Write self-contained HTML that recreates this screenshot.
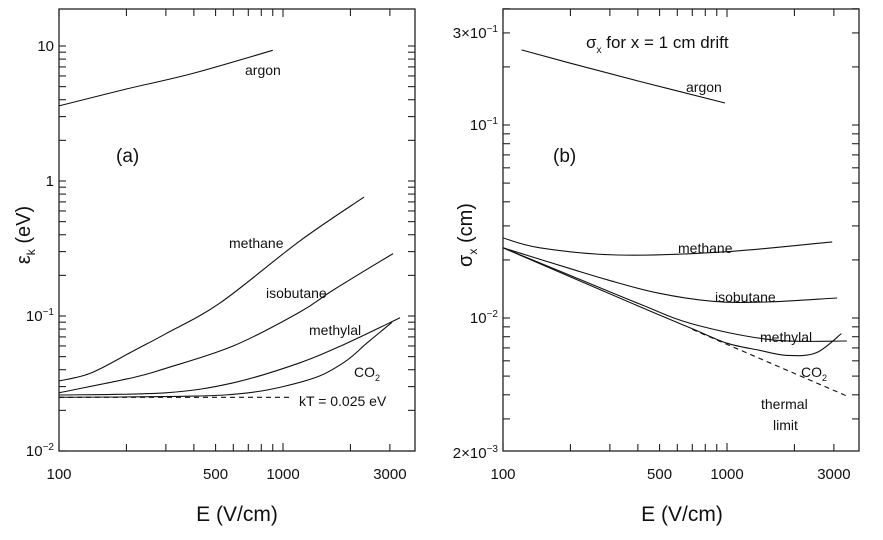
<!DOCTYPE html>
<html><head><meta charset="utf-8"><style>
html,body{margin:0;padding:0;background:#fff;}
svg text{font-family:"Liberation Sans","DejaVu Sans",sans-serif;fill:#111;}
</style></head><body>
<svg id="chart" width="883" height="535" viewBox="0 0 883 535" xmlns="http://www.w3.org/2000/svg"></svg>
<script>
// Panel (a): mean energy vs E
const aArgon=[[100,3.6],[200,4.8],[400,6.3],[900,9.3]];
const aMethane=[[100,0.033],[140,0.038],[214,0.055],[300,0.074],[524,0.125],[1190,0.36],[2300,0.76]];
const aIsobutane=[[100,0.027],[214,0.035],[300,0.041],[600,0.06],[1190,0.107],[1680,0.156],[3100,0.29]];
const aMethylal=[[100,0.026],[300,0.027],[600,0.032],[1190,0.045],[1930,0.063],[3330,0.097]];
const aCO2=[[100,0.025],[400,0.0255],[700,0.027],[1000,0.030],[1460,0.036],[1930,0.047],[2370,0.063],[3070,0.09]];
const aKT=[[100,0.025],[1080,0.025]];
// Panel (b): sigma_x vs E
const bArgon=[[121,0.245],[200,0.209],[409,0.168],[980,0.130]];
const bMethane=[[100,0.026],[146,0.0231],[323,0.0212],[960,0.022],[2950,0.0248]];
const bIsobutane=[[100,0.0231],[200,0.018],[291,0.0158],[487,0.0135],[866,0.0122],[1500,0.0121],[3100,0.0127]];
const bMethylal=[[100,0.0231],[200,0.0166],[409,0.0118],[705,0.0093],[1600,0.0077],[3430,0.0076]];
const bCO2=[[100,0.0231],[400,0.01155],[700,0.0088],[1000,0.0074],[1400,0.0068],[1850,0.0064],[2500,0.0066],[3240,0.0083]];
const bThermal=[[700,0.00873],[3470,0.00392]];
const xTickLabels=[[100,"100"],[500,"500"],[1000,"1000"],[3000,"3000"]];

const NS="http://www.w3.org/2000/svg";
const svg=document.getElementById('chart');
function mk(tag,attrs,parent){const e=document.createElementNS(NS,tag);for(const k in attrs)e.setAttribute(k,attrs[k]);(parent||svg).appendChild(e);return e;}
function smooth(P){
  if(P.length<3)return P.map((p,i)=>(i?'L':'M')+p[0].toFixed(1)+','+p[1].toFixed(1)).join(' ');
  let d='M'+P[0][0].toFixed(1)+','+P[0][1].toFixed(1);
  for(let i=0;i<P.length-1;i++){
    const p0=P[Math.max(0,i-1)],p1=P[i],p2=P[i+1],p3=P[Math.min(P.length-1,i+2)];
    const c1=[p1[0]+(p2[0]-p0[0])/6,p1[1]+(p2[1]-p0[1])/6];
    const c2=[p2[0]-(p3[0]-p1[0])/6,p2[1]-(p3[1]-p1[1])/6];
    d+=' C'+c1[0].toFixed(1)+','+c1[1].toFixed(1)+' '+c2[0].toFixed(1)+','+c2[1].toFixed(1)+' '+p2[0].toFixed(1)+','+p2[1].toFixed(1);
  }
  return d;
}

function panel(cfg){
  const g=mk('g',{});
  
  
  const X=v=>cfg.x0+224*Math.log10(v/100);
  const Y=v=>cfg.yRef-cfg.dec*(Math.log10(v)-Math.log10(cfg.vRef));
  const L=cfg.x0,R=cfg.x1,T=9,B=451;
  const fr=mk('rect',{x:L,y:T,width:R-L,height:B-T,fill:'none',stroke:'#222','stroke-width':1.3},g);
  
  
  [100,200,300,400,500,600,700,800,900,1000,2000,3000].forEach(v=>{
    const x=X(v);const len=(v===100||v===1000)?8:7;
    mk('line',{x1:x,y1:B,x2:x,y2:B-len,stroke:'#222','stroke-width':1.1},g);
    mk('line',{x1:x,y1:T,x2:x,y2:T+len,stroke:'#222','stroke-width':1.1},g);
  });
  xTickLabels.forEach(t=>{
    const e=mk('text',{x:X(t[0]),y:479,'font-size':15,'text-anchor':'middle'},g);
    e.textContent=t[1];
    
    
  });
  cfg.yTicks.forEach(v=>{
    const y=Y(v);if(y<T-0.5||y>B+0.5)return;
    mk('line',{x1:L,y1:y,x2:L+7,y2:y,stroke:'#222','stroke-width':1.1},g);
    mk('line',{x1:R,y1:y,x2:R-7,y2:y,stroke:'#222','stroke-width':1.1},g);
  });
  cfg.yLabels.forEach(t=>{
    const e=mk('text',{x:L-5,y:Y(t[0])+5,'font-size':15,'text-anchor':'end'},g);
    e.innerHTML=t[1];
    
    
  });
  cfg.series.forEach(s=>{
    const P=s.pts.map(p=>[X(p[0]),Y(p[1])]);
    const p=mk('path',{d:smooth(P),fill:'none',stroke:'#111','stroke-width':1.1,'stroke-dasharray':s.dash||'none'},g);
    
    
  });
  cfg.texts.forEach(t=>{
    const e=mk('text',{x:t[0],y:t[1],'font-size':t[3]||14},g);
    e.innerHTML=t[2];
    
    
  });
  return {X,Y};
}
const sup=s=>'10<tspan font-size="10" dy="-6">'+s+'</tspan>';
const aTicks=[];[0.01,0.1,1,10].forEach(d=>{for(let m=1;m<10;m++)aTicks.push(d*m);});
panel({name:'panel-a',x0:59,x1:415,yRef:451,vRef:0.01,dec:135,yTicks:aTicks,
  yLabels:[[10,'10'],[1,'1'],[0.1,sup('−1')],[0.01,sup('−2')]],
  series:[{pts:aArgon,name:'argon-curve'},{pts:aMethane,name:'methane-curve'},{pts:aIsobutane,name:'isobutane-curve'},
    {pts:aMethylal,name:'methylal-curve'},{pts:aCO2,name:'co2-curve'},{pts:aKT,name:'kt-line',dash:'5,4'}],
  texts:[[245,75,'argon',14,'argon-label'],[116,162,'(a)',19,'panel-a-label'],[229,248,'methane',14,'methane-label'],
    [266,298,'isobutane',14,'isobutane-label'],[309,335,'methylal',14,'methylal-label'],
    [354,377,'CO<tspan font-size="9" dy="4">2</tspan>',14,'co2-label'],[299,406,'kT = 0.025 eV',14,'kt-label']]
});
const bTicks=[];[0.001,0.01,0.1].forEach(d=>{for(let m=1;m<10;m++)bTicks.push(d*m);});
panel({name:'panel-b',x0:503,x1:859,yRef:318,vRef:0.01,dec:193,yTicks:bTicks,
  yLabels:[[0.3,'3×'+sup('−1')],[0.1,sup('−1')],[0.01,sup('−2')],[0.002,'2×'+sup('−3')]],
  series:[{pts:bArgon,name:'argon-curve'},{pts:bMethane,name:'methane-curve'},{pts:bIsobutane,name:'isobutane-curve'},
    {pts:bMethylal,name:'methylal-curve'},{pts:bCO2,name:'co2-curve'},{pts:bThermal,name:'thermal-limit-line',dash:'5,4'}],
  texts:[[586,48,'σ<tspan font-size="10" dy="5">x</tspan><tspan dy="-5">  for x = 1 cm drift</tspan>',17,'panel-b-title'],
    [686,92,'argon',14,'argon-label'],[553,162,'(b)',19,'panel-b-label'],[678,253,'methane',14,'methane-label'],
    [715,302,'isobutane',14,'isobutane-label'],[760,342,'methylal',14,'methylal-label'],
    [801,377,'CO<tspan font-size="9" dy="4">2</tspan>',14,'co2-label'],[761,409,'thermal',14,'thermal-label'],[773,430,'limit',14,'limit-label']]
});
[[237,'a'],[682,'b']].forEach(a=>{
  const e=mk('text',{x:a[0],y:521,'font-size':21,'text-anchor':'middle'});
  e.textContent='E  (V/cm)';
  
  
});
const ya=mk('text',{x:0,y:0,'font-size':20,'text-anchor':'middle',transform:'translate(30,235) rotate(-90)'});
ya.innerHTML='ε<tspan font-size="12" dy="5">k</tspan><tspan dy="-5">  (eV)</tspan>';


const yb=mk('text',{x:0,y:0,'font-size':20,'text-anchor':'middle',transform:'translate(472,235) rotate(-90)'});
yb.innerHTML='σ<tspan font-size="12" dy="5">x</tspan><tspan dy="-5">  (cm)</tspan>';


</script>
</body></html>
